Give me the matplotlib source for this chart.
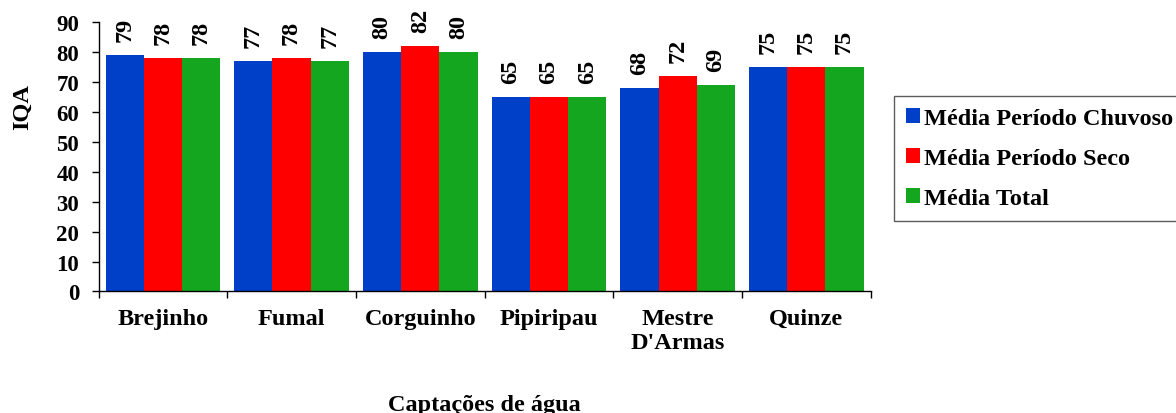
#IQA por captacao: medias dos periodos chuvoso, seco e total
import numpy as np
import matplotlib.pyplot as plt

plt.rcParams['font.family'] = ['Liberation Serif', 'DejaVu Serif']
plt.rcParams['font.weight'] = 'bold'

captacoes = ['Brejinho', 'Fumal', 'Corguinho', 'Pipiripau', "Mestre\nD'Armas", 'Quinze']
chuvoso = [79, 77, 80, 65, 68, 75]
seco = [78, 78, 82, 65, 72, 75]
total = [78, 77, 80, 65, 69, 75]
series = ['Média Período Chuvoso', 'Média Período Seco', 'Média Total']
cores = ['#0040C8', '#FF0000', '#14A61E']

fig = plt.figure(figsize=(11.76, 4.14), dpi=100)
ax = fig.add_axes([0.0838, 0.2935, 0.6566, 0.6509])

x = np.arange(len(captacoes))
w = 0.297
for k, (vals, nome, cor) in enumerate(zip([chuvoso, seco, total], series, cores)):
    pos = x + (k - 1) * w
    ax.bar(pos, vals, width=w, color=cor, label=nome, linewidth=0)
    for p, v in zip(pos, vals):
        ax.annotate(str(v), (p, v), xytext=(0, 10), textcoords='offset points',
                    ha='center', va='bottom', rotation=90, fontsize=17.5, fontweight='bold')

ax.set_xlim(-0.5, len(captacoes) - 0.5)
ax.set_ylim(0, 90)
ax.set_yticks(range(0, 91, 10))
ax.tick_params(axis='y', labelsize=16.5, length=5, width=1, pad=9, direction='out')

# ticks nas divisas das categorias, rotulos no centro
ax.set_xticks(np.arange(-0.5, len(captacoes), 1))
ax.set_xticklabels([])
ax.set_xticks(x, minor=True)
ax.set_xticklabels(captacoes, minor=True, fontsize=17.5, fontweight='bold')
ax.tick_params(axis='x', which='major', length=5, width=1, direction='out')
ax.tick_params(axis='x', which='minor', length=0, pad=12)

for s in ['top', 'right']:
    ax.spines[s].set_visible(False)
for s in ['left', 'bottom']:
    ax.spines[s].set_linewidth(1)

ax.set_ylabel('IQA', fontsize=17.5, fontweight='bold')
ax.yaxis.set_label_coords(-0.098, 0.688)
ax.yaxis.label.set_va('center')
ax.set_xlabel('Captações de água', fontsize=17.5, fontweight='bold')
ax.xaxis.set_label_coords(0.5, -0.38)
ax.xaxis.label.set_va('top')

leg = fig.legend(loc='upper left', bbox_to_anchor=(894 / 1176, 1 - 97 / 414),
                 bbox_transform=fig.transFigure, fontsize=17.5, frameon=True, fancybox=False,
                 handlelength=0.56, handleheight=0.56, handletextpad=0.18,
                 labelspacing=0.78, borderpad=0.5, borderaxespad=0)
leg.get_frame().set_edgecolor('#333333')
leg.get_frame().set_linewidth(1)
for t in leg.get_texts():
    t.set_fontweight('bold')

fig.savefig('out.png', dpi=100)
